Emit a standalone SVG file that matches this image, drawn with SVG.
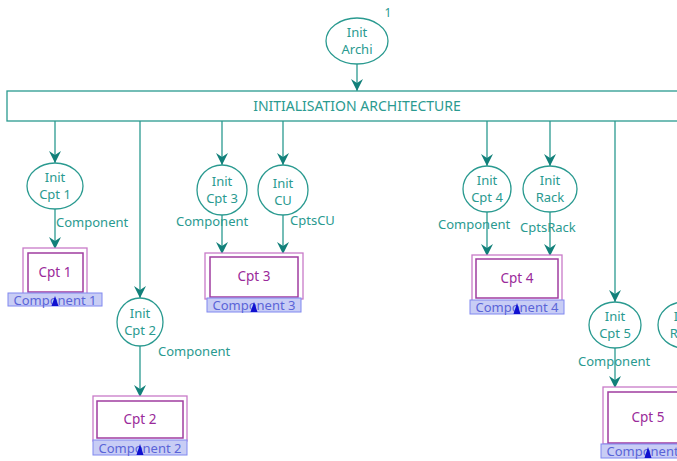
<svg xmlns="http://www.w3.org/2000/svg" width="677" height="461" viewBox="0 0 677 461">
<defs>
<marker id="ah" viewBox="-1 -7 14 14" refX="12" refY="0" markerWidth="14" markerHeight="14" markerUnits="userSpaceOnUse" orient="auto">
<path d="M0,-6 L12,0 L0,6 L4,0 z" fill="#12807a"/>
</marker>
</defs>
<style>
.pl{fill:#fff;stroke:#2a9a90;stroke-width:1.3}
.pt{font-family:"Noto Sans","Liberation Sans",sans-serif;font-size:13px;fill:#2a9a90;text-anchor:middle}
.lb{font-family:"Noto Sans","Liberation Sans",sans-serif;font-size:13px;fill:#2a9a90}
.ed{fill:none;stroke:#2a9a90;stroke-width:1.3;marker-end:url(#ah)}
.bo{fill:#fff;stroke:#c87ac8;stroke-width:1.3}
.bi{fill:#fff;stroke:#a03ca0;stroke-width:1.5}
.bt{font-family:"Noto Sans","Liberation Sans",sans-serif;font-size:13.5px;fill:#9a2a9a;text-anchor:middle}
.tg{fill:#c8cdf5;stroke:#8088f0;stroke-width:1}
.tt{font-family:"Noto Sans","Liberation Sans",sans-serif;font-size:13px;fill:#5a64d8;text-anchor:middle}
.up{fill:#1010d0}
</style>
<g id="connectors">
<line class="ed" x1="357" y1="64" x2="357" y2="91"/>
<line class="ed" x1="55" y1="121" x2="55" y2="163"/>
<line class="ed" x1="140" y1="121" x2="140" y2="298"/>
<line class="ed" x1="222" y1="121" x2="222" y2="165"/>
<line class="ed" x1="283" y1="121" x2="283" y2="165"/>
<line class="ed" x1="487" y1="121" x2="487" y2="166"/>
<line class="ed" x1="550" y1="121" x2="550" y2="166"/>
<line class="ed" x1="615" y1="121" x2="615" y2="302"/>
<line class="ed" x1="683" y1="121" x2="683" y2="302"/>
<line class="ed" x1="55" y1="209" x2="55" y2="249"/>
<line class="ed" x1="140" y1="346" x2="140" y2="397"/>
<line class="ed" x1="222" y1="215" x2="222" y2="254"/>
<line class="ed" x1="283" y1="215" x2="283" y2="254"/>
<line class="ed" x1="487" y1="212" x2="487" y2="256"/>
<line class="ed" x1="550" y1="212" x2="550" y2="256"/>
<line class="ed" x1="615" y1="348" x2="615" y2="388"/>
<text class="lb" x="56" y="227">Component</text>
<text class="lb" x="158" y="356">Component</text>
<text class="lb" x="176" y="226">Component</text>
<text class="lb" x="290" y="225">CptsCU</text>
<text class="lb" x="438" y="229">Component</text>
<text class="lb" x="520" y="232">CptsRack</text>
<text class="lb" x="578" y="366">Component</text>
</g>
<g id="bar">
<rect x="7" y="91" width="700" height="30" class="pl"/>
<text class="pt" x="357" y="111" style="font-size:14px">INITIALISATION ARCHITECTURE</text>
</g>
<g id="initArchi">
<ellipse class="pl" cx="357" cy="41" rx="31" ry="23"/>
<text class="pt" x="357" y="37">Init</text>
<text class="pt" x="357" y="54">Archi</text>
<text class="pt" x="388" y="17" style="font-size:12px">1</text>
</g>
<g id="initCpt1">
<ellipse class="pl" cx="55" cy="186" rx="28" ry="23"/>
<text class="pt" x="55" y="182">Init</text>
<text class="pt" x="55" y="199">Cpt 1</text>
</g>
<g id="initCpt2">
<ellipse class="pl" cx="140" cy="322" rx="23" ry="24"/>
<text class="pt" x="140" y="318">Init</text>
<text class="pt" x="140" y="335">Cpt 2</text>
</g>
<g id="initCpt3">
<ellipse class="pl" cx="222" cy="190" rx="25" ry="25"/>
<text class="pt" x="222" y="186">Init</text>
<text class="pt" x="222" y="203">Cpt 3</text>
</g>
<g id="initCU">
<ellipse class="pl" cx="283" cy="190" rx="25" ry="25"/>
<text class="pt" x="283" y="188">Init</text>
<text class="pt" x="283" y="205">CU</text>
</g>
<g id="initCpt4">
<ellipse class="pl" cx="487" cy="189" rx="24" ry="23"/>
<text class="pt" x="487" y="185">Init</text>
<text class="pt" x="487" y="202">Cpt 4</text>
</g>
<g id="initRack">
<ellipse class="pl" cx="550" cy="189" rx="27" ry="23"/>
<text class="pt" x="550" y="185">Init</text>
<text class="pt" x="550" y="202">Rack</text>
</g>
<g id="initCpt5">
<ellipse class="pl" cx="615" cy="325" rx="26" ry="23"/>
<text class="pt" x="615" y="321">Init</text>
<text class="pt" x="615" y="338">Cpt 5</text>
</g>
<g id="initRack2">
<ellipse class="pl" cx="684" cy="325" rx="26" ry="23"/>
<text class="pt" x="684" y="321">Init</text>
<text class="pt" x="684" y="338">Rack</text>
</g>
<g id="cpt1">
<rect class="bo" x="23" y="248" width="64" height="46"/>
<rect class="bi" x="28" y="253" width="55" height="39"/>
<text class="bt" x="55" y="277">Cpt 1</text>
<rect class="tg" x="8" y="293" width="94" height="13"/>
<text class="tt" x="55" y="304.5">Component 1</text>
<path class="up" d="M55,296 L58.5,306 L51.5,306 z"/>
</g>
<g id="cpt2">
<rect class="bo" x="93" y="396" width="94" height="45"/>
<rect class="bi" x="97" y="401" width="86" height="37"/>
<text class="bt" x="140" y="424">Cpt 2</text>
<rect class="tg" x="93" y="440" width="94" height="15"/>
<text class="tt" x="140" y="452.5">Component 2</text>
<path class="up" d="M140,444 L143.5,455 L136.5,455 z"/>
</g>
<g id="cpt3">
<rect class="bo" x="205" y="253" width="98" height="46"/>
<rect class="bi" x="210" y="257" width="88" height="40"/>
<text class="bt" x="254" y="281">Cpt 3</text>
<rect class="tg" x="207" y="298" width="94" height="14"/>
<text class="tt" x="254" y="310">Component 3</text>
<path class="up" d="M254,302 L257.5,312 L250.5,312 z"/>
</g>
<g id="cpt4">
<rect class="bo" x="472" y="255" width="90" height="46"/>
<rect class="bi" x="476" y="259" width="82" height="39"/>
<text class="bt" x="517" y="283">Cpt 4</text>
<rect class="tg" x="470" y="300" width="94" height="14"/>
<text class="tt" x="517" y="311.5">Component 4</text>
<path class="up" d="M517,303 L520.5,314 L513.5,314 z"/>
</g>
<g id="cpt5">
<rect class="bo" x="603" y="387" width="94" height="57"/>
<rect class="bi" x="608" y="392" width="84" height="51"/>
<text class="bt" x="648" y="422">Cpt 5</text>
<rect class="tg" x="601" y="444" width="94" height="14"/>
<text class="tt" x="648" y="456">Component 5</text>
<path class="up" d="M648,447 L651.5,458 L644.5,458 z"/>
</g>
</svg>
